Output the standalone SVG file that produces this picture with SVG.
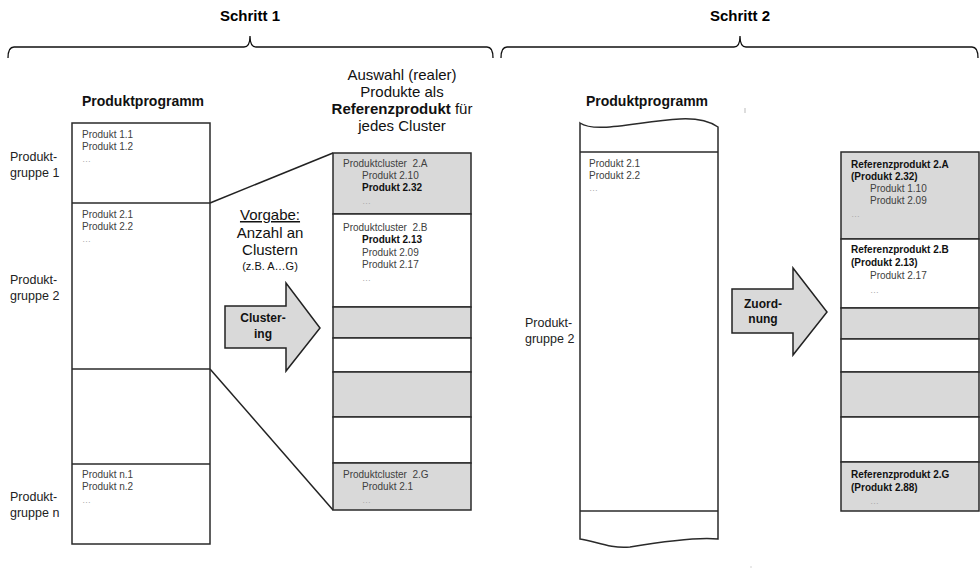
<svg xmlns="http://www.w3.org/2000/svg" width="980" height="581" viewBox="0 0 980 581">
<style>
text{font-family:"Liberation Sans",Arial,sans-serif;}
.t{font-size:15px;font-weight:bold;fill:#000;text-anchor:middle;}
.h{font-size:14px;font-weight:bold;fill:#111;text-anchor:middle;}
.g{font-size:12.5px;fill:#222;}
.s{font-size:10px;fill:#404040;}
.sb{font-size:10px;fill:#111;font-weight:bold;}
.d{font-size:9px;fill:#aaa;}
.m{font-size:15px;fill:#111;text-anchor:middle;}
.box{stroke:#2a2a2a;stroke-width:1.5;}
.gr{fill:#d9d9d9;}
.wh{fill:#fff;}
.brace{fill:none;stroke:#111;stroke-width:1.3;}
.ln{fill:none;stroke:#222;stroke-width:1.5;}
.arr{fill:#d9d9d9;stroke:#222;stroke-width:1.5;}
.at{font-size:12px;font-weight:bold;fill:#111;text-anchor:middle;}
</style>
<rect width="980" height="581" fill="#fff"/>

<g id="schritt1">
<text class="t" x="250" y="21">Schritt 1</text>
<path class="brace" d="M8,58 Q8,47 14,47 L244,47 Q250,47 250,36 Q250,47 256,47 L487,47 Q493,47 493,58"/>
</g>
<g id="schritt2">
<text class="t" x="740" y="21">Schritt 2</text>
<path class="brace" d="M501,58 Q501,47 507,47 L734,47 Q740,47 740,36 Q740,47 746,47 L972,47 Q978,47 978,58"/>
</g>

<g id="connectors">
<line class="ln" x1="210" y1="203" x2="333" y2="153"/>
<line class="ln" x1="210" y1="369" x2="333" y2="510"/>
</g>

<g id="produktprogramm1">
<text class="h" x="143" y="106">Produktprogramm</text>
<rect class="box wh" x="72" y="123" width="138" height="421"/>
<line class="box" x1="72" y1="203" x2="210" y2="203"/>
<line class="box" x1="72" y1="369" x2="210" y2="369"/>
<line class="box" x1="72" y1="464" x2="210" y2="464"/>
<text class="s" x="82" y="138">Produkt 1.1</text>
<text class="s" x="82" y="150">Produkt 1.2</text>
<text class="d" x="82" y="162">…</text>
<text class="s" x="82" y="218">Produkt 2.1</text>
<text class="s" x="82" y="230">Produkt 2.2</text>
<text class="d" x="82" y="242">…</text>
<text class="s" x="82" y="478">Produkt n.1</text>
<text class="s" x="82" y="490">Produkt n.2</text>
<text class="d" x="82" y="503">…</text>
</g>

<g id="gruppen1">
<text class="g" x="10" y="161">Produkt-</text>
<text class="g" x="10" y="177">gruppe 1</text>
<text class="g" x="10" y="284">Produkt-</text>
<text class="g" x="10" y="300">gruppe 2</text>
<text class="g" x="10" y="501">Produkt-</text>
<text class="g" x="10" y="517">gruppe n</text>
</g>

<g id="vorgabe">
<text class="m" x="270" y="220" text-decoration="underline">Vorgabe:</text>
<text class="m" x="270" y="238">Anzahl an</text>
<text class="m" x="270" y="255">Clustern</text>
<text class="m" x="270" y="270" style="font-size:11px">(z.B. A…G)</text>
</g>

<g id="clustering">
<path class="arr" d="M225,306 L286,306 L286,283 L320,328 L286,371 L286,348 L225,348 Z"/>
<text class="at" x="263" y="322">Cluster-</text>
<text class="at" x="263" y="338">ing</text>
</g>

<g id="auswahl">
<text class="m" x="402" y="80">Auswahl (realer)</text>
<text class="m" x="402" y="97">Produkte als</text>
<text class="m" x="402" y="114"><tspan font-weight="bold">Referenzprodukt</tspan> für</text>
<text class="m" x="402" y="131">jedes Cluster</text>
</g>

<g id="cluster">
<rect class="box gr" x="333" y="153" width="138" height="61"/>
<rect class="box wh" x="333" y="214" width="138" height="93"/>
<rect class="box gr" x="333" y="307" width="138" height="31"/>
<rect class="box wh" x="333" y="338" width="138" height="34"/>
<rect class="box gr" x="333" y="372" width="138" height="45"/>
<rect class="box wh" x="333" y="417" width="138" height="46"/>
<rect class="box gr" x="333" y="463" width="138" height="47"/>
<text class="s" x="343" y="167">Produktcluster&#160; 2.A</text>
<text class="s" x="362" y="179">Produkt 2.10</text>
<text class="sb" x="362" y="191">Produkt 2.32</text>
<text class="d" x="362" y="204">…</text>
<text class="s" x="343" y="231">Produktcluster&#160; 2.B</text>
<text class="sb" x="362" y="243">Produkt 2.13</text>
<text class="s" x="362" y="256">Produkt 2.09</text>
<text class="s" x="362" y="268">Produkt 2.17</text>
<text class="d" x="362" y="281">…</text>
<text class="s" x="343" y="478">Produktcluster&#160; 2.G</text>
<text class="s" x="362" y="490">Produkt 2.1</text>
<text class="d" x="362" y="503">…</text>
</g>

<g id="produktprogramm2">
<text class="h" x="647" y="106">Produktprogramm</text>
<path class="box wh" d="M580,123 C596,134 640,121 680,119 C700,118 712,123 718,127 L718,539 C700,537 660,542 630,547 C610,549 595,541 580,539 Z"/>
<line class="box" x1="580" y1="152" x2="718" y2="152"/>
<line class="box" x1="580" y1="511" x2="718" y2="511"/>
<text class="s" x="589" y="167">Produkt 2.1</text>
<text class="s" x="589" y="179">Produkt 2.2</text>
<text class="d" x="589" y="191">…</text>
<text class="g" x="525" y="327">Produkt-</text>
<text class="g" x="525" y="343">gruppe 2</text>
<line x1="745" y1="108" x2="745" y2="113" stroke="#bbb" stroke-width="1"/>
<circle cx="751" cy="567" r="0.8" fill="#ccc"/>
</g>

<g id="zuordnung">
<path class="arr" d="M732,289 L793,289 L793,268 L827,312 L793,355 L793,333 L732,333 Z"/>
<text class="at" x="763" y="308">Zuord-</text>
<text class="at" x="763" y="323">nung</text>
</g>

<g id="referenz">
<rect class="box gr" x="841" y="152" width="138" height="87"/>
<rect class="box wh" x="841" y="239" width="138" height="69"/>
<rect class="box gr" x="841" y="308" width="138" height="31"/>
<rect class="box wh" x="841" y="339" width="138" height="33"/>
<rect class="box gr" x="841" y="372" width="138" height="45"/>
<rect class="box wh" x="841" y="417" width="138" height="45"/>
<rect class="box gr" x="841" y="462" width="138" height="49"/>
<text class="sb" x="851" y="168">Referenzprodukt 2.A</text>
<text class="sb" x="851" y="180">(Produkt 2.32)</text>
<text class="s" x="870" y="192">Produkt 1.10</text>
<text class="s" x="870" y="204">Produkt 2.09</text>
<text class="d" x="851" y="217">…</text>
<text class="sb" x="851" y="253">Referenzprodukt 2.B</text>
<text class="sb" x="851" y="266">(Produkt 2.13)</text>
<text class="s" x="870" y="279">Produkt 2.17</text>
<text class="d" x="870" y="293">…</text>
<text class="sb" x="851" y="478">Referenzprodukt 2.G</text>
<text class="sb" x="851" y="491">(Produkt 2.88)</text>
<text class="d" x="870" y="504">…</text>
</g>
</svg>
